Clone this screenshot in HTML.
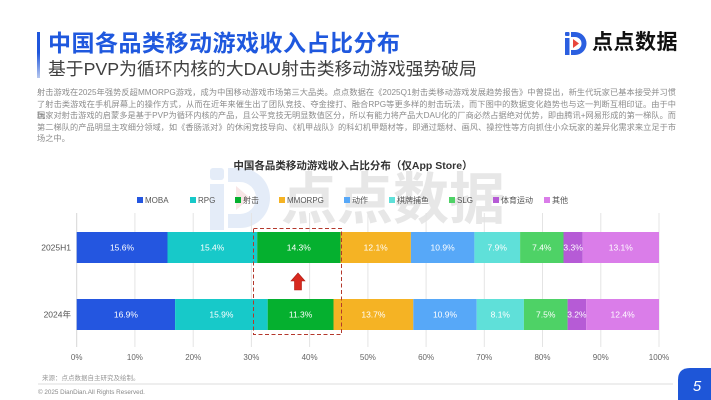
<!DOCTYPE html>
<html><head><meta charset="utf-8">
<style>
html,body{margin:0;padding:0;background:#fff;}
body{width:711px;height:400px;position:relative;overflow:hidden;font-family:"Liberation Sans","Noto Sans CJK SC",sans-serif;}
.abs{position:absolute;}
#bar{left:37px;top:32px;width:3px;height:46px;background:linear-gradient(#1f56dc,#1f56dc 45%,#b8c8ee);}
#title{left:48px;top:30px;font-size:23px;line-height:26px;font-weight:bold;color:#1f58de;letter-spacing:0.5px;white-space:nowrap;}
#sub{left:48px;top:58px;font-size:17.8px;line-height:22px;color:#3f3f3f;white-space:nowrap;}
.p{left:37px;width:639px;font-size:8.2px;line-height:11px;color:#8c8c8c;text-align:justify;text-align-last:justify;height:11px;overflow:visible;}
#logo{left:592px;top:30px;font-size:21px;line-height:26px;font-weight:bold;color:#111;white-space:nowrap;letter-spacing:0.5px;}
</style></head>
<body>
<svg class="abs" style="left:0;top:0" width="711" height="400" viewBox="0 0 711 400" font-family="Liberation Sans, Noto Sans CJK SC, sans-serif">
  <!-- watermark -->
  <g opacity="1">
    <rect x="210" y="168" width="14" height="12" rx="3" fill="#e4ecf8"/>
    <rect x="210" y="184" width="14" height="46" fill="#e4ecf8"/>
    <path d="M228 168 h12 a30 30 0 0 1 0 60 h-12 v-14 h12 a16 16 0 0 0 0 -32 h-12z" fill="#e4ecf8"/>
    <path d="M236 186 l14 12 l-14 12z" fill="#f8e6e6"/>
    <text x="281" y="219" font-size="56" font-weight="bold" fill="#e7e7e7" font-family="Liberation Sans, Noto Sans CJK SC, sans-serif">点点数据</text>
  </g>
  <!-- chart title -->
  <text x="353" y="169" text-anchor="middle" font-size="10.5" font-weight="bold" fill="#333">中国各品类移动游戏收入占比分布（仅App Store）</text>
  <!-- legend -->
  <g font-size="8" fill="#555">
    <rect x="137" y="197" width="6" height="6" fill="#2456e0"/><text x="145" y="203">MOBA</text>
    <rect x="190" y="197" width="6" height="6" fill="#17c9c9"/><text x="198" y="203">RPG</text>
    <rect x="235" y="197" width="6" height="6" fill="#05b02f"/><text x="243" y="203">射击</text>
    <rect x="279" y="197" width="6" height="6" fill="#f5b324"/><text x="287" y="203">MMORPG</text>
    <rect x="344" y="197" width="6" height="6" fill="#57a8f8"/><text x="352" y="203">动作</text>
    <rect x="389" y="197" width="6" height="6" fill="#5fe0d9"/><text x="397" y="203">棋牌捕鱼</text>
    <rect x="449" y="197" width="6" height="6" fill="#4ed266"/><text x="457" y="203">SLG</text>
    <rect x="493" y="197" width="6" height="6" fill="#b65bd6"/><text x="501" y="203">体育运动</text>
    <rect x="544" y="197" width="6" height="6" fill="#da7de9"/><text x="552" y="203">其他</text>
  </g>
  <!-- gridlines -->
  <g stroke="#e4e4e4" stroke-width="1">
    <line x1="76.7" y1="213" x2="76.7" y2="347" stroke="#d6d6d6"/>
    <line x1="134.9" y1="213" x2="134.9" y2="347"/>
    <line x1="193.2" y1="213" x2="193.2" y2="347"/>
    <line x1="251.4" y1="213" x2="251.4" y2="347"/>
    <line x1="309.6" y1="213" x2="309.6" y2="347"/>
    <line x1="367.9" y1="213" x2="367.9" y2="347"/>
    <line x1="426.1" y1="213" x2="426.1" y2="347"/>
    <line x1="484.3" y1="213" x2="484.3" y2="347"/>
    <line x1="542.5" y1="213" x2="542.5" y2="347"/>
    <line x1="600.8" y1="213" x2="600.8" y2="347"/>
    <line x1="659" y1="213" x2="659" y2="347"/>
  </g>
  <!-- bars 2025H1 -->
  <g>
    <rect x="76.7" y="232" width="90.8" height="31" fill="#2456e0"/>
    <rect x="167.5" y="232" width="89.7" height="31" fill="#17c9c9"/>
    <rect x="257.2" y="232" width="83.3" height="31" fill="#05b02f"/>
    <rect x="340.5" y="232" width="70.4" height="31" fill="#f5b324"/>
    <rect x="410.9" y="232" width="63.5" height="31" fill="#57a8f8"/>
    <rect x="474.4" y="232" width="45.7" height="31" fill="#5fe0d9"/>
    <rect x="520.1" y="232" width="43.4" height="31" fill="#4ed266"/>
    <rect x="563.5" y="232" width="19.2" height="31" fill="#b65bd6"/>
    <rect x="582.7" y="232" width="76.3" height="31" fill="#da7de9"/>
  </g>
  <g>
    <rect x="76.7" y="299" width="98.4" height="31" fill="#2456e0"/>
    <rect x="175.1" y="299" width="92.6" height="31" fill="#17c9c9"/>
    <rect x="267.7" y="299" width="65.8" height="31" fill="#05b02f"/>
    <rect x="333.5" y="299" width="79.8" height="31" fill="#f5b324"/>
    <rect x="413.3" y="299" width="63.4" height="31" fill="#57a8f8"/>
    <rect x="476.7" y="299" width="47.2" height="31" fill="#5fe0d9"/>
    <rect x="523.9" y="299" width="43.7" height="31" fill="#4ed266"/>
    <rect x="567.6" y="299" width="18.6" height="31" fill="#b65bd6"/>
    <rect x="586.2" y="299" width="72.8" height="31" fill="#da7de9"/>
  </g>
  <!-- bar labels -->
  <g font-size="8.5" fill="#fff" text-anchor="middle">
    <text x="122" y="250.5">15.6%</text>
    <text x="212.3" y="250.5">15.4%</text>
    <text x="298.8" y="250.5">14.3%</text>
    <text x="375.7" y="250.5">12.1%</text>
    <text x="442.6" y="250.5">10.9%</text>
    <text x="497.2" y="250.5">7.9%</text>
    <text x="541.8" y="250.5">7.4%</text>
    <text x="573.1" y="250.5">3.3%</text>
    <text x="620.8" y="250.5">13.1%</text>
    <text x="125.9" y="317.5">16.9%</text>
    <text x="221.4" y="317.5">15.9%</text>
    <text x="300.6" y="317.5">11.3%</text>
    <text x="373.4" y="317.5">13.7%</text>
    <text x="445" y="317.5">10.9%</text>
    <text x="500.3" y="317.5">8.1%</text>
    <text x="545.7" y="317.5">7.5%</text>
    <text x="576.9" y="317.5">3.2%</text>
    <text x="622.6" y="317.5">12.4%</text>
  </g>
  <!-- y labels -->
  <g font-size="8.5" fill="#555" text-anchor="end">
    <text x="71" y="250.5">2025H1</text>
    <text x="71" y="317.5">2024年</text>
  </g>
  <!-- x ticks -->
  <g font-size="8" fill="#666" text-anchor="middle">
    <text x="76.7" y="360">0%</text>
    <text x="134.9" y="360">10%</text>
    <text x="193.2" y="360">20%</text>
    <text x="251.4" y="360">30%</text>
    <text x="309.6" y="360">40%</text>
    <text x="367.9" y="360">50%</text>
    <text x="426.1" y="360">60%</text>
    <text x="484.3" y="360">70%</text>
    <text x="542.5" y="360">80%</text>
    <text x="600.8" y="360">90%</text>
    <text x="659" y="360">100%</text>
  </g>
  <!-- dashed box -->
  <rect x="253.5" y="228.5" width="88" height="106" fill="none" stroke="#b4382c" stroke-width="1" stroke-dasharray="4,2.5"/>
  <!-- arrow -->
  <path d="M298 273 L305 281 L301.5 281 L301.5 290 L294.5 290 L294.5 281 L291 281 Z" fill="#d8291e" stroke="#b01a12" stroke-width="0.6"/>
  <!-- source -->
  <text x="42" y="380" font-size="6.5" fill="#999">来源：点点数据自主研究及绘制。</text>
  <rect x="38" y="383" width="635" height="2" fill="#eeeeee"/>
  <text x="38" y="394" font-size="6.3" fill="#888">© 2025 DianDian.All Rights Reserved.</text>
  <!-- page number -->
  <path d="M678 400 V380 Q678 368 690 368 H711 V400 Z" fill="#1e56d8"/>
  <text x="697" y="391" font-size="15" fill="#fff" font-style="italic" text-anchor="middle">5</text>
  <!-- logo icon -->
  <rect x="565" y="32" width="4.5" height="4" rx="1" fill="#2b5fe0"/>
  <rect x="565" y="38" width="4.5" height="17" fill="#2b5fe0"/>
  <path d="M571 32 h4 a11.5 11.5 0 0 1 0 23 h-4 v-5 h4 a6.5 6.5 0 0 0 0 -13 h-4z" fill="#2b5fe0"/>
  <path d="M573 39 l6 4.5 l-6 4.5z" fill="#e8463c"/>
</svg>
<div id="bar" class="abs"></div>
<div id="title" class="abs">中国各品类移动游戏收入占比分布</div>
<div id="sub" class="abs">基于PVP为循环内核的大DAU射击类移动游戏强势破局</div>
<div id="logo" class="abs">点点数据</div>
<div class="abs p" style="top:87px">射击游戏在2025年强势反超MMORPG游戏，成为中国移动游戏市场第三大品类。点点数据在《2025Q1射击类移动游戏发展趋势报告》中曾提出，新生代玩家已基本接受并习惯</div>
<div class="abs p" style="top:98.5px">了射击类游戏在手机屏幕上的操作方式，从而在近年来催生出了团队竞技、夺金搜打、融合RPG等更多样的射击玩法，而下图中的数据变化趋势也与这一判断互相印证。由于中国</div>
<div class="abs p" style="top:110px">玩家对射击游戏的启蒙多是基于PVP为循环内核的产品，且公平竞技无明显数值区分，所以有能力将产品大DAU化的厂商必然占据绝对优势，即由腾讯+网易形成的第一梯队。而</div>
<div class="abs p" style="top:121.5px">第二梯队的产品明显主攻细分领域，如《香肠派对》的休闲竞技导向、《机甲战队》的科幻机甲题材等，即通过题材、画风、操控性等方向抓住小众玩家的差异化需求来立足于市</div>
<div class="abs p" style="top:132.5px;text-align-last:left">场之中。</div>
</body></html>
